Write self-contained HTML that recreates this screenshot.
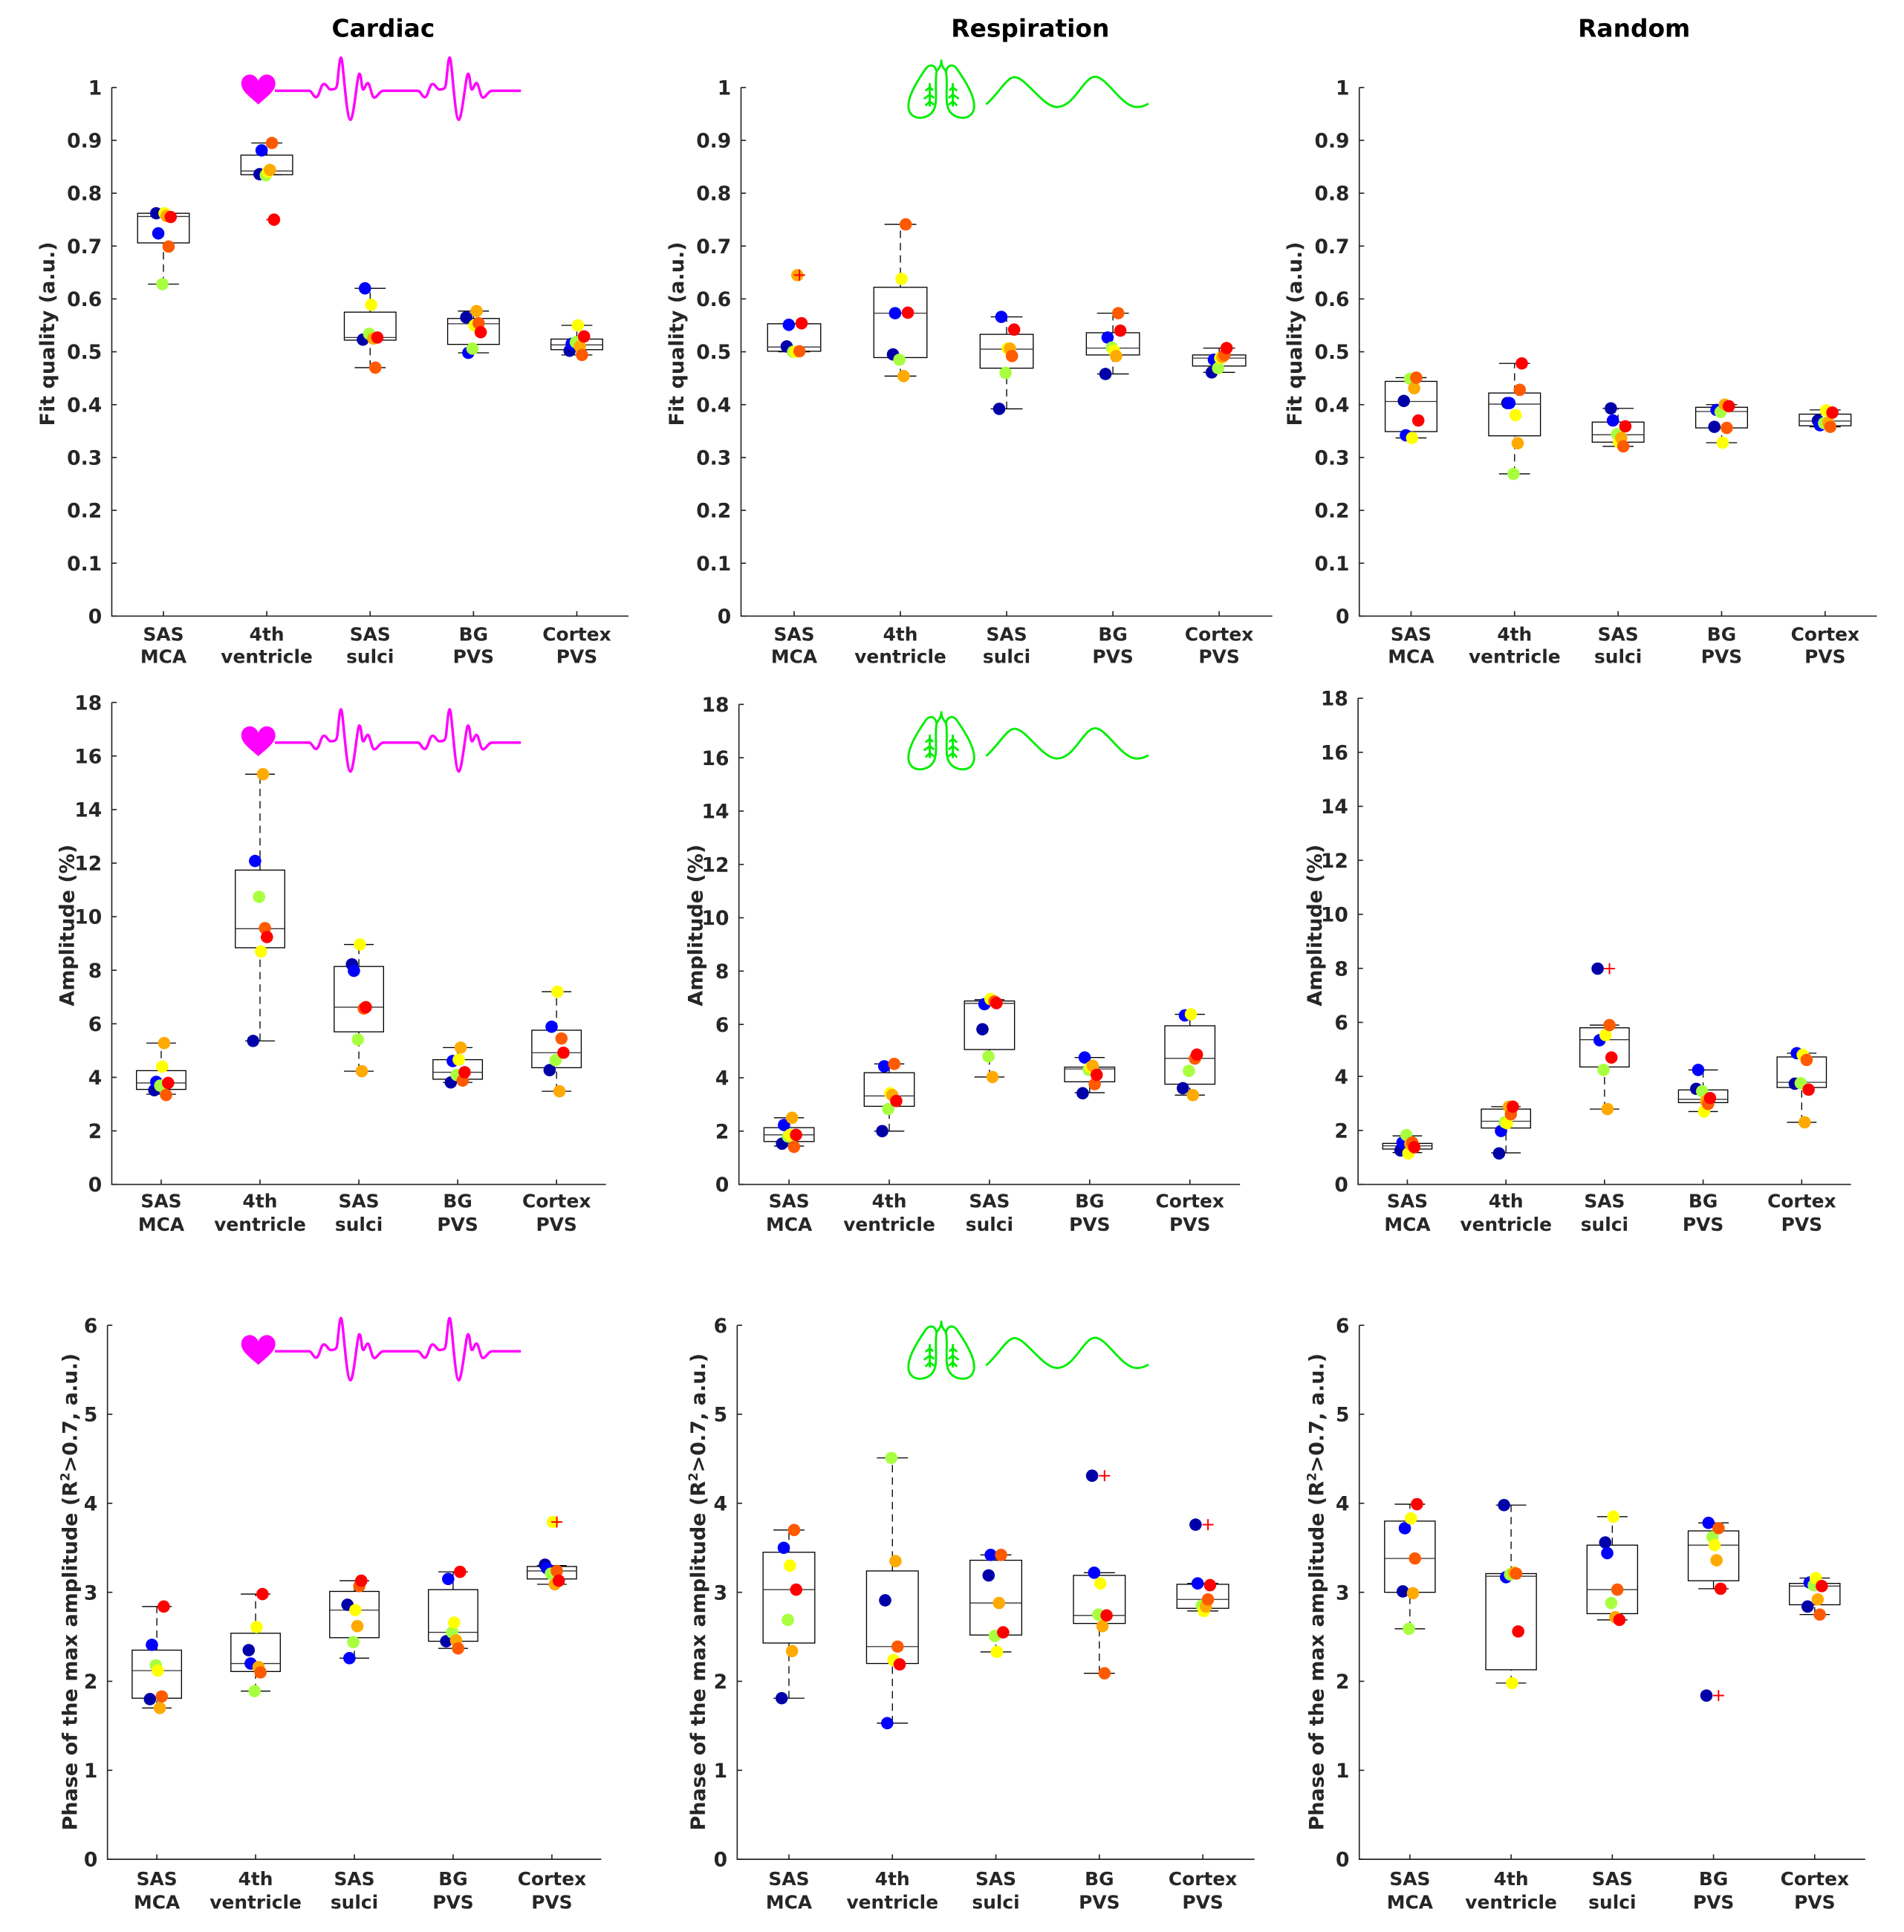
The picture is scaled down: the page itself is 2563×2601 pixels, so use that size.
<!DOCTYPE html>
<html><head><meta charset="utf-8"><style>
html,body{margin:0;padding:0;background:#fff}
svg{display:block}
text{font-family:"DejaVu Sans","Liberation Sans",sans-serif;font-weight:bold}
</style></head><body>
<svg id="fig" xmlns="http://www.w3.org/2000/svg" width="2563" height="2601" viewBox="0 0 1545 1568" preserveAspectRatio="none">
<rect width="1545" height="1568" fill="#fff"/>
</svg>
<script>
const categories = [["SAS","MCA"],["4th","ventricle"],["SAS","sulci"],["BG","PVS"],["Cortex","PVS"]];
const subjectColors = ["#0000a8","#0000ff","#a8ff40","#ffff00","#ffaa00","#ff5a00","#ff0000"];
const columnTitles = ["Cardiac","Respiration","Random"];
const fitTicks = [0,0.1,0.2,0.3,0.4,0.5,0.6,0.7,0.8,0.9,1];
const fitTickLabels = ["0","0.1","0.2","0.3","0.4","0.5","0.6","0.7","0.8","0.9","1"];
const ampTicks = [0,2,4,6,8,10,12,14,16,18];
const phaseTicks = [0,1,2,3,4,5,6];

// points per category: [navy, blue, green, yellow, orange, orangered, red]
const cardFitPts = [[.762,.724,.628,.762,.757,.699,.755],[.836,.881,.834,.84,.844,.895,.75],[.523,.62,.534,.589,.525,.47,.527],[.565,.498,.506,.55,.577,.554,.537],[.502,.515,.518,.55,.51,.494,.529]];
const cardFitBox = [[.628,.706,.756,.762,.762],[.835,.835,.842,.872,.895],[.47,.522,.527,.575,.62],[.498,.514,.553,.563,.577],[.494,.504,.513,.524,.55]];
const cardFitOut = [[1,.75]];
const respFitPts = [[.51,.551,.5,.5,.645,.501,.554],[.495,.573,.485,.638,.454,.741,.574],[.392,.566,.46,.506,.506,.492,.542],[.458,.527,.508,.502,.492,.573,.54],[.461,.485,.469,.488,.49,.494,.507]];
const respFitBox = [[.5,.501,.509,.553,.553],[.454,.489,.573,.622,.741],[.392,.469,.505,.533,.566],[.458,.494,.507,.536,.573],[.461,.473,.488,.494,.507]];
const respFitOut = [[0,.645]];
const randFitPts = [[.407,.342,.449,.337,.431,.451,.37],[.403,.403,.269,.38,.327,.428,.478],[.393,.37,.344,.329,.337,.321,.359],[.358,.39,.386,.328,.4,.356,.397],[.37,.361,.365,.389,.366,.358,.385]];
const randFitBox = [[.337,.349,.406,.444,.451],[.269,.341,.401,.422,.478],[.321,.329,.343,.367,.393],[.328,.356,.387,.395,.4],[.358,.36,.369,.382,.39]];
const randFitOut = [];
const cardAmpPts = [[3.52,3.83,3.69,4.4,5.28,3.34,3.79],[5.36,12.08,10.74,8.7,15.32,9.57,9.24],[8.22,7.98,5.41,8.96,4.23,6.57,6.62],[3.81,4.61,4.09,4.66,5.11,3.88,4.19],[4.27,5.89,4.64,7.2,3.48,5.45,4.92]];
const cardAmpBox = [[3.37,3.55,3.79,4.25,5.28],[5.36,8.84,9.55,11.74,15.32],[4.23,5.7,6.62,8.14,8.96],[3.81,3.93,4.19,4.66,5.11],[3.48,4.36,4.92,5.76,7.2]];
const cardAmpOut = [];
const respAmpPts = [[1.53,2.23,1.8,1.86,2.5,1.41,1.86],[2.0,4.43,2.83,3.42,3.35,4.52,3.13],[5.82,6.76,4.8,6.95,4.03,6.86,6.8],[3.42,4.76,4.3,4.39,4.45,3.76,4.11],[3.61,6.34,4.26,6.38,3.35,4.72,4.87]];
const respAmpBox = [[1.44,1.61,1.86,2.13,2.5],[2.0,2.93,3.32,4.19,4.52],[4.03,5.06,6.79,6.88,6.93],[3.44,3.85,4.33,4.4,4.76],[3.35,3.76,4.73,5.95,6.38]];
const respAmpOut = [];
const randAmpPts = [[1.26,1.55,1.83,1.15,1.5,1.55,1.38],[1.15,1.98,2.3,2.27,2.88,2.6,2.88],[7.99,5.34,4.24,5.53,2.79,5.9,4.7],[3.54,4.24,3.45,2.7,3.09,2.98,3.2],[3.73,4.86,3.75,4.8,2.3,4.61,3.51]];
const randAmpBox = [[1.18,1.31,1.43,1.52,1.8],[1.17,2.09,2.34,2.79,2.88],[2.79,4.35,5.36,5.8,5.9],[2.7,3.03,3.15,3.5,4.24],[2.3,3.59,3.78,4.72,4.86]];
const randAmpOut = [[2,7.99]];
const cardPhPts = [[1.8,2.41,2.18,2.12,1.7,1.83,2.84],[2.35,2.2,1.89,2.61,2.16,2.1,2.98],[2.86,2.26,2.44,2.8,2.62,3.07,3.13],[2.45,3.15,2.55,2.66,2.46,2.37,3.23],[3.31,3.27,3.21,3.79,3.09,3.24,3.13]];
const cardPhBox = [[1.7,1.81,2.12,2.35,2.84],[1.89,2.11,2.2,2.54,2.98],[2.26,2.49,2.8,3.01,3.13],[2.37,2.45,2.55,3.03,3.23],[3.09,3.15,3.24,3.29,3.3]];
const cardPhOut = [[4,3.79]];
const respPhPts = [[1.81,3.5,2.69,3.3,2.34,3.7,3.03],[2.91,1.53,4.51,2.24,3.35,2.39,2.19],[3.19,3.42,2.51,2.33,2.88,3.42,2.55],[4.31,3.22,2.75,3.1,2.62,2.09,2.74],[3.76,3.1,2.85,2.79,2.84,2.92,3.08]];
const respPhBox = [[1.81,2.43,3.03,3.45,3.7],[1.53,2.2,2.39,3.24,4.51],[2.33,2.52,2.88,3.36,3.42],[2.09,2.65,2.74,3.19,3.22],[2.79,2.82,2.92,3.09,3.1]];
const respPhOut = [[3,4.31],[4,3.76]];
const randPhPts = [[3.01,3.72,2.59,3.83,2.99,3.38,3.99],[3.98,3.17,3.2,1.98,3.22,3.21,2.56],[3.56,3.44,2.88,3.85,2.72,3.03,2.69],[1.84,3.78,3.62,3.53,3.36,3.72,3.04],[2.84,3.11,3.08,3.16,2.92,2.75,3.07]];
const randPhBox = [[2.59,3.0,3.38,3.8,3.99],[1.98,2.13,3.18,3.21,3.98],[2.69,2.76,3.03,3.53,3.85],[3.04,3.13,3.53,3.69,3.78],[2.75,2.86,3.07,3.1,3.16]];
const randPhOut = [[3,1.84]];

const NS = "http://www.w3.org/2000/svg";
const svg = document.getElementById("fig");
function mk(tag, attrs, parent){const e=document.createElementNS(NS,tag);for(const k in attrs)e.setAttribute(k,attrs[k]);(parent||svg).appendChild(e);return e;}
const jitter = [-0.07,-0.05,-0.01,0.01,0.03,0.05,0.07];
const AX="#262626";

const panels = [
 {r:0,c:0,name:"cardiac-fit",pts:cardFitPts,box:cardFitBox,out:cardFitOut,x0:90.7,x1:510,y0:500,y1:71,max:1,ticks:fitTicks,tl:fitTickLabels,label:"Fit quality (a.u.)",lx:38,ly:271,cy:[520,538]},
 {r:0,c:1,name:"respiration-fit",pts:respFitPts,box:respFitBox,out:respFitOut,x0:601.3,x1:1032.4,y0:500,y1:71,max:1,ticks:fitTicks,tl:fitTickLabels,label:"Fit quality (a.u.)",lx:548.7,ly:271,cy:[520,538]},
 {r:0,c:2,name:"random-fit",pts:randFitPts,box:randFitBox,out:randFitOut,x0:1103,x1:1523,y0:500,y1:71,max:1,ticks:fitTicks,tl:fitTickLabels,label:"Fit quality (a.u.)",lx:1050.2,ly:271,cy:[520,538]},
 {r:1,c:0,name:"cardiac-amplitude",pts:cardAmpPts,box:cardAmpBox,out:cardAmpOut,x0:90.7,x1:491.7,y0:961.3,y1:570.1,max:18,ticks:ampTicks,tl:ampTicks.map(String),label:"Amplitude (%)",lx:54,ly:751,cy:[980,999]},
 {r:1,c:1,name:"respiration-amplitude",pts:respAmpPts,box:respAmpBox,out:respAmpOut,x0:599.6,x1:1006.2,y0:961.3,y1:571.7,max:18,ticks:ampTicks,tl:ampTicks.map(String),label:"Amplitude (%)",lx:564,ly:751,cy:[980,999]},
 {r:1,c:2,name:"random-amplitude",pts:randAmpPts,box:randAmpBox,out:randAmpOut,x0:1102,x1:1502,y0:961.3,y1:566.7,max:18,ticks:ampTicks,tl:ampTicks.map(String),label:"Amplitude (%)",lx:1066.4,ly:751,cy:[980,999]},
 {r:2,c:0,name:"cardiac-phase",pts:cardPhPts,box:cardPhBox,out:cardPhOut,x0:87.2,x1:487.9,y0:1509,y1:1075.6,max:6,ticks:phaseTicks,tl:phaseTicks.map(String),label:"PH",lx:56.4,ly:1292,cy:[1530,1549]},
 {r:2,c:1,name:"respiration-phase",pts:respPhPts,box:respPhBox,out:respPhOut,x0:598.2,x1:1018,y0:1509,y1:1075.6,max:6,ticks:phaseTicks,tl:phaseTicks.map(String),label:"PH",lx:566,ly:1292,cy:[1530,1549]},
 {r:2,c:2,name:"random-phase",pts:randPhPts,box:randPhBox,out:randPhOut,x0:1103,x1:1513.6,y0:1509,y1:1075.6,max:6,ticks:phaseTicks,tl:phaseTicks.map(String),label:"PH",lx:1068,ly:1292,cy:[1530,1549]}
];

panels.forEach(p=>{
  const g=mk("g",{});
  
  
  const step=(p.x1-p.x0)/categories.length;
  const X=i=>p.x0+step*(i+0.5);
  const Y=v=>p.y0-(v/p.max)*(p.y0-p.y1);
  const ax=mk("path",{d:`M${p.x0} ${p.y1}V${p.y0}H${p.x1}`,fill:"none",stroke:AX,"stroke-width":1},g);
  
  
  p.ticks.forEach((t,i)=>{
    mk("line",{x1:p.x0,x2:p.x0+4,y1:Y(t),y2:Y(t),stroke:AX,"stroke-width":1},g);
    const tx=mk("text",{x:p.x0-8,y:Y(t)+5.8,"text-anchor":"end","font-size":16,fill:AX},g);
    tx.textContent=p.tl[i];
    
    
  });
  categories.forEach((c,i)=>{
    mk("line",{x1:X(i),x2:X(i),y1:p.y0,y2:p.y0-4,stroke:AX,"stroke-width":1},g);
    c.forEach((s,j)=>{
      const tx=mk("text",{x:X(i),y:p.cy[j],"text-anchor":"middle","font-size":15,fill:AX},g);
      tx.textContent=s;
      
      
    });
  });
  const yl=mk("text",{transform:`translate(${p.lx+6},${p.ly}) rotate(-90)`,"text-anchor":"middle","font-size":16.3,fill:AX},g);
  if(p.label==="PH"){
    yl.appendChild(document.createTextNode("Phase of the max amplitude (R"));
    const sup=mk("tspan",{"font-size":10,dy:-6},yl); sup.textContent="2";
    const rest=mk("tspan",{dy:6},yl); rest.textContent=">0.7, a.u.)";
  } else yl.textContent=p.label;
  
  
  const hw=step*0.25, cw=step*0.15;
  p.box.forEach((b,i)=>{
    const bg=mk("g",{},g);
    
    
    mk("line",{x1:X(i),x2:X(i),y1:Y(b[0]),y2:Y(b[1]),stroke:"#000","stroke-width":0.8,"stroke-dasharray":"6 4"},bg);
    mk("line",{x1:X(i),x2:X(i),y1:Y(b[3]),y2:Y(b[4]),stroke:"#000","stroke-width":0.8,"stroke-dasharray":"6 4"},bg);
    mk("line",{x1:X(i)-cw,x2:X(i)+cw,y1:Y(b[0]),y2:Y(b[0]),stroke:"#000","stroke-width":0.8},bg);
    mk("line",{x1:X(i)-cw,x2:X(i)+cw,y1:Y(b[4]),y2:Y(b[4]),stroke:"#000","stroke-width":0.8},bg);
    mk("rect",{x:X(i)-hw,y:Y(b[3]),width:2*hw,height:Math.max(0.5,Y(b[1])-Y(b[3])),fill:"none",stroke:"#000","stroke-width":0.8},bg);
    mk("line",{x1:X(i)-hw,x2:X(i)+hw,y1:Y(b[2]),y2:Y(b[2]),stroke:"#333","stroke-width":0.8},bg);
  });
  p.pts.forEach((arr,i)=>{
    arr.forEach((v,k)=>{
      const d=mk("circle",{cx:X(i)+jitter[k]*step,cy:Y(v),r:5,fill:subjectColors[k]},g);
      
      
    });
  });
  p.out.forEach(o=>{
    const ox=X(o[0])+0.05*step, oy=Y(o[1]);
    const pl=mk("path",{d:`M${ox-4.5} ${oy}H${ox+4.5}M${ox} ${oy-4.5}V${oy+4.5}`,stroke:"#ff0000","stroke-width":1.2},g);
    
    
  });
});

const titleX=[311,836,1326];
columnTitles.forEach((t,i)=>{
  const tx=mk("text",{x:titleX[i],y:30,"text-anchor":"middle","font-size":19.8,fill:"#000"});
  tx.textContent=t;
  
  
});

const ecg="M645 213H725C732 213 736 230 742 228C750 226 752 197 760 197C767 197 770 212 778 210C786 208 790 212 792 190C795 160 797 135 800 135C805 135 812 280 822 281C830 282 838 173 843 173C848 173 848 210 852 210C856 210 858 195 863 195C868 195 872 229 878 229C885 229 890 213 900 213H980C987 213 991 230 997 228C1005 226 1007 197 1015 197C1022 197 1025 212 1033 210C1041 208 1045 212 1047 190C1050 160 1052 135 1055 135C1060 135 1067 280 1076 281C1084 282 1093 173 1098 173C1103 173 1103 210 1107 210C1111 210 1113 195 1118 195C1123 195 1127 229 1133 229C1140 229 1145 213 1155 213H1222";
const heart="M606 245C590 230 566 215 566 196C566 183 576 175 586 175C596 175 603 182 606 190C609 182 616 175 626 175C636 175 646 183 646 196C646 215 622 230 606 245Z";
[0,529,1023].forEach(dy=>{
  const g=mk("g",{transform:`translate(0,${dy}) scale(0.3459)`});
  
  
  mk("path",{d:heart,fill:"#ff00ff"},g);
  mk("path",{d:ecg,fill:"none",stroke:"#ff00ff","stroke-width":6,"stroke-linejoin":"round"},g);
});
const lobe="M716 168C712 150 698 150 690 162C672 188 648 225 650 252C652 272 668 278 682 276C700 273 712 262 714 240C716 215 712 190 716 168Z";
const bron="M700 195V250M700 205L690 213M700 205L708 212M700 222L686 232M700 222L710 230M700 238L690 248M700 238L710 246";
const trach="M727 140C727 158 720 160 716 168M727 140C727 158 734 160 738 168";
const sine="M832 245C860 222 880 181 899 181C925 181 965 251 998 251C1040 251 1060 180 1088 180C1115 180 1150 251 1185 251C1200 251 1208 246 1213 243";
[0,528.8,1023.4].forEach(dy=>{
  const g=mk("g",{transform:`translate(512.35,${dy}) scale(0.3459)`});
  
  
  const st={fill:"none",stroke:"#00ee00","stroke-width":5};
  mk("path",Object.assign({d:lobe},st),g);
  mk("path",Object.assign({d:bron,"stroke-width":4},st),g);
  const m=mk("g",{transform:"translate(1454,0) scale(-1,1)"},g);
  mk("path",Object.assign({d:lobe},st),m);
  mk("path",Object.assign({d:bron,"stroke-width":4},st),m);
  mk("path",Object.assign({d:trach},st),g);
  mk("path",Object.assign({d:sine},st),g);
});
</script>
</body></html>
